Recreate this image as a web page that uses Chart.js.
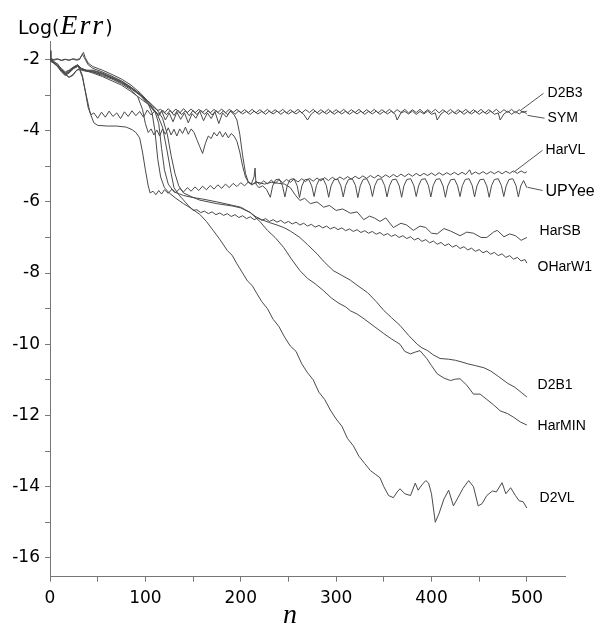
<!DOCTYPE html>
<html>
<head>
<meta charset="utf-8">
<script src="https://cdn.jsdelivr.net/npm/chart.js@4.4.1/dist/chart.umd.min.js"></script>
<style>
  html, body { margin: 0; padding: 0; background: #fff; }
  #wrap { width: 597px; height: 628px; }
</style>
</head>
<body>
<div id="wrap"><canvas id="errChart" width="597" height="628"></canvas></div>
<script>
// values: [n, log(err)]
const sym = [[0,-1.75],[1,-1.95],[4,-2.1],[8,-2.2],[12,-2.3],[16,-2.4],[20,-2.5],[24,-2.45],[28,-2.3],[31,-2.25],[34,-2.45],[37,-2.9],[40,-3.35],[43,-3.55],[46,-3.5],
  [50,-3.65],[54,-3.48],[58,-3.62],[62,-3.45],[66,-3.6],[70,-3.5],[74,-3.66],[78,-3.47],[82,-3.6],[86,-3.44],[90,-3.58],[94,-3.46],[98,-3.62],[102,-3.42],[106,-3.56],[110,-3.44],
  [114,-3.58],[118,-3.42],[122,-3.55],[126,-3.43],[130,-3.57],[134,-3.42],[138,-3.55],[142,-3.44],[146,-3.58],[150,-3.43],[154,-3.55],[158,-3.42],[162,-3.54],[166,-3.44],[170,-3.56],
  [174,-3.43],[178,-3.54],[182,-3.44],[186,-3.55],[190,-3.43],[194,-3.54],[198,-3.44],[202,-3.53],[206,-3.46],[210,-3.54],[214,-3.45],[218,-3.53],[222,-3.46],[226,-3.54],[230,-3.45],
  [234,-3.53],[238,-3.45],[242,-3.54],[246,-3.46],[250,-3.53],[254,-3.46],[258,-3.53],[262,-3.45],[266,-3.54],[270,-3.7],[274,-3.53],[278,-3.45],[282,-3.54],[286,-3.46],[290,-3.53],
  [294,-3.45],[298,-3.54],[302,-3.46],[306,-3.53],[310,-3.45],[314,-3.54],[318,-3.46],[322,-3.53],[326,-3.45],[330,-3.54],[334,-3.46],[338,-3.53],[342,-3.45],[346,-3.54],[350,-3.46],
  [354,-3.53],[358,-3.45],[362,-3.54],[364,-3.7],[368,-3.5],[372,-3.46],[376,-3.53],[380,-3.45],[384,-3.54],[388,-3.46],[392,-3.53],[396,-3.45],[400,-3.54],[404,-3.5],[406,-3.7],
  [410,-3.53],[414,-3.45],[418,-3.54],[422,-3.46],[426,-3.53],[430,-3.45],[434,-3.54],[438,-3.46],[442,-3.53],[446,-3.45],[450,-3.54],[454,-3.46],[458,-3.53],[462,-3.45],[466,-3.54],
  [470,-3.5],[472,-3.7],[476,-3.53],[480,-3.45],[484,-3.54],[488,-3.46],[492,-3.53],[496,-3.45],[500,-3.53]];

const d2b3 = [[0,-1.97],[4,-2.02],[8,-1.99],[12,-2.03],[16,-2.0],[20,-2.02],[24,-1.99],[28,-2.02],[31,-2.0],[33,-1.9],[35,-1.8],[37,-1.95],[40,-2.1],[45,-2.2],[55,-2.3],
  [65,-2.42],[75,-2.55],[85,-2.72],[95,-2.95],[102,-3.15],[108,-3.33],[113,-3.43],[116,-3.4],[120,-3.5],[124,-3.38],[128,-3.5],[132,-3.39],[136,-3.51],[140,-3.38],[144,-3.49],
  [148,-3.39],[152,-3.5],[156,-3.4],[160,-3.49],[164,-3.39],[168,-3.5],[172,-3.4],[176,-3.49],[180,-3.39],[184,-3.5],[188,-3.4],[192,-3.49],[196,-3.4],[200,-3.5],[204,-3.41],
  [208,-3.49],[212,-3.4],[216,-3.5],[220,-3.41],[224,-3.49],[228,-3.4],[232,-3.5],[236,-3.41],[240,-3.49],[244,-3.4],[248,-3.5],[252,-3.41],[256,-3.49],[260,-3.4],[264,-3.5],
  [268,-3.41],[272,-3.49],[276,-3.4],[280,-3.5],[284,-3.41],[288,-3.49],[292,-3.4],[296,-3.5],[300,-3.41],[304,-3.49],[308,-3.4],[312,-3.5],[316,-3.41],[320,-3.49],[324,-3.4],
  [328,-3.5],[332,-3.41],[336,-3.49],[340,-3.4],[344,-3.5],[348,-3.41],[352,-3.49],[356,-3.4],[360,-3.5],[364,-3.41],[368,-3.49],[372,-3.4],[376,-3.5],[380,-3.41],[384,-3.49],
  [388,-3.4],[392,-3.5],[396,-3.41],[400,-3.49],[404,-3.4],[408,-3.5],[412,-3.41],[416,-3.49],[420,-3.4],[424,-3.5],[428,-3.41],[432,-3.49],[436,-3.4],[440,-3.5],[444,-3.41],
  [448,-3.49],[452,-3.4],[456,-3.5],[460,-3.41],[464,-3.49],[468,-3.4],[472,-3.5],[476,-3.41],[480,-3.49],[484,-3.4],[488,-3.5],[492,-3.41],[496,-3.49],[500,-3.45]];

const harVL = [[0,-2.05],[4,-2.1],[8,-2.2],[12,-2.32],[16,-2.42],[20,-2.5],[24,-2.42],[28,-2.3],[31,-2.28],[34,-2.5],[38,-3.0],[42,-3.5],[46,-3.78],[50,-3.85],[60,-3.87],
  [70,-3.87],[80,-3.9],[86,-3.97],[90,-4.05],[94,-4.2],[97,-4.6],[100,-5.1],[103,-5.55],[105,-5.75],[108,-5.7],[111,-5.8],[114,-5.68],[117,-5.78],[120,-5.66],[124,-5.76],
  [128,-5.64],[132,-5.74],[136,-5.62],[140,-5.72],[144,-5.6],[148,-5.7],[152,-5.58],[156,-5.68],[160,-5.56],[164,-5.66],[168,-5.54],[172,-5.64],[176,-5.52],[180,-5.62],[184,-5.5],
  [188,-5.6],[192,-5.48],[196,-5.57],[200,-5.46],[204,-5.55],[208,-5.44],[212,-5.53],[216,-5.42],[220,-5.51],[224,-5.41],[228,-5.49],[232,-5.39],[236,-5.48],[240,-5.38],[244,-5.46],
  [248,-5.37],[252,-5.45],[256,-5.36],[260,-5.44],[264,-5.35],[268,-5.43],[272,-5.34],[276,-5.42],[280,-5.33],[284,-5.41],[288,-5.32],[292,-5.4],[296,-5.31],[300,-5.38],[304,-5.3],
  [308,-5.37],[312,-5.29],[316,-5.36],[320,-5.28],[324,-5.35],[328,-5.27],[332,-5.34],[336,-5.26],[340,-5.33],[344,-5.25],[348,-5.32],[352,-5.24],[356,-5.31],[360,-5.23],[364,-5.3],
  [368,-5.22],[372,-5.29],[376,-5.21],[380,-5.28],[384,-5.2],[388,-5.27],[392,-5.2],[396,-5.26],[400,-5.19],[404,-5.26],[408,-5.18],[412,-5.25],[416,-5.18],[420,-5.24],[424,-5.17],
  [428,-5.24],[432,-5.17],[436,-5.23],[440,-5.1],[442,-5.23],[446,-5.16],[450,-5.22],[454,-5.15],[458,-5.22],[462,-5.15],[466,-5.21],[470,-5.14],[474,-5.21],[478,-5.14],[482,-5.2],
  [486,-5.13],[490,-5.2],[494,-5.13],[498,-5.19],[500,-5.15]];

const upYee = [[0,-1.97],[4,-2.0],[8,-1.98],[12,-2.02],[16,-1.99],[20,-2.02],[24,-1.98],[28,-2.0],[31,-1.98],[34,-1.85],[36,-1.95],[40,-2.15],[45,-2.25],[55,-2.35],[65,-2.47],
  [75,-2.6],[85,-2.78],[95,-3.0],[103,-3.25],[109,-3.45],[113,-3.55],[117,-3.45],[121,-3.7],[125,-3.5],[129,-3.75],[133,-3.48],[137,-3.68],[141,-3.5],[145,-3.78],[149,-3.52],
  [153,-3.65],[157,-3.45],[161,-3.72],[165,-3.5],[169,-3.66],[173,-3.47],[177,-3.8],[181,-3.5],[185,-3.62],[189,-3.45],[193,-3.55],[196,-3.7],[199,-4.1],[202,-4.7],[205,-5.2],
  [208,-5.45],[211,-5.5],[214,-5.3],[215,-5.05],[216,-5.5],[219,-5.6],[223,-5.55],[227,-5.65],
  [231,-5.87],[233.5,-5.55],[236.5,-5.38],[240.5,-5.36],[243.8,-5.55],
  [246.3,-5.86],[248.8,-5.54],[251.8,-5.37],[255.8,-5.35],[259.1,-5.54],
  [261.6,-5.88],[264.1,-5.55],[267.1,-5.38],[271.1,-5.36],[274.4,-5.55],
  [276.9,-5.85],[279.4,-5.54],[282.4,-5.37],[286.4,-5.35],[289.7,-5.54],
  [292.2,-5.87],[294.7,-5.55],[297.7,-5.38],[301.7,-5.36],[305,-5.55],
  [307.5,-5.86],[310,-5.54],[313,-5.37],[317,-5.35],[320.3,-5.54],
  [322.8,-5.88],[325.3,-5.55],[328.3,-5.37],[332.3,-5.35],[335.6,-5.54],
  [338.1,-5.85],[340.6,-5.54],[343.6,-5.37],[347.6,-5.35],[350.9,-5.54],
  [353.4,-5.86],[355.9,-5.55],[358.9,-5.38],[362.9,-5.36],[366.2,-5.55],
  [368.7,-5.87],[371.2,-5.54],[374.2,-5.37],[378.2,-5.35],[381.5,-5.54],
  [384,-5.85],[386.5,-5.55],[389.5,-5.37],[393.5,-5.35],[396.8,-5.54],
  [399.3,-5.86],[401.8,-5.54],[404.8,-5.37],[408.8,-5.35],[412.1,-5.55],
  [414.6,-5.87],[417.1,-5.55],[420.1,-5.38],[424.1,-5.36],[427.4,-5.55],
  [429.9,-5.85],[432.4,-5.54],[435.4,-5.37],[439.4,-5.35],[442.7,-5.54],
  [445.2,-5.86],[447.7,-5.55],[450.7,-5.38],[454.7,-5.36],[458,-5.55],
  [460.5,-5.87],[463,-5.54],[466,-5.37],[470,-5.35],[473.3,-5.54],
  [475.8,-5.85],[478.3,-5.55],[481.3,-5.37],[485.3,-5.35],[488.6,-5.54],
  [491.1,-5.86],[493.6,-5.55],[496.6,-5.4],[500,-5.6]];

const harSB = [[0,-2.0],[4,-2.05],[8,-2.15],[12,-2.25],[16,-2.35],[20,-2.3],[25,-2.2],[29,-2.15],[33,-2.25],[38,-2.3],[45,-2.35],[55,-2.45],[65,-2.55],[75,-2.68],[85,-2.85],
  [92,-3.05],[97,-3.4],[100,-3.8],[103,-4.05],[106,-3.95],[109,-4.12],[112,-3.98],[115,-4.15],[118,-3.95],[121,-4.1],[124,-3.92],[127,-4.12],[130,-3.96],[133,-4.15],[136,-3.95],
  [139,-4.08],[142,-3.9],[145,-4.1],[148,-3.95],[151,-4.05],[154,-4.25],[157,-4.45],[160,-4.64],[163,-4.35],[166,-4.15],[169,-4.22],[172,-4.05],[175,-4.15],[178,-4.02],[181,-4.18],
  [184,-4.05],[187,-4.2],[190,-4.08],[193,-4.15],[196,-4.3],[199,-4.6],[202,-5.0],[205,-5.3],[208,-5.45],[212,-5.5],[218,-5.45],[225,-5.5],[232,-5.45],[240,-5.48],[246,-5.5],
  [252,-5.6],[257,-5.8],[262,-5.96],[267,-5.9],[273,-6.05],[280,-6.0],[287,-6.15],[293,-6.1],[300,-6.24],[307,-6.2],[315,-6.32],[322,-6.28],[329,-6.5],[335,-6.4],[340,-6.45],
  [346,-6.55],[352,-6.45],[360,-6.72],[368,-6.6],[374,-6.65],[381,-6.8],[388,-6.68],[394,-6.72],[400,-6.88],[406,-6.9],[413,-6.75],[420,-6.82],[430,-6.95],[437,-6.85],[444,-6.88],
  [452,-7.0],[458,-7.0],[465,-6.85],[469,-6.8],[476,-6.98],[482,-6.9],[488,-6.95],[494,-7.08],[500,-7.0]];

const oHarW1 = [[0,-2.0],[4,-2.08],[8,-2.18],[12,-2.3],[16,-2.38],[20,-2.32],[25,-2.22],[29,-2.18],[33,-2.28],[38,-2.32],[45,-2.38],[55,-2.48],[65,-2.6],[75,-2.72],[85,-2.9],
  [95,-3.1],[105,-3.3],[112,-3.5],[118,-3.9],[123,-4.6],[127,-5.2],[130,-5.6],[135,-5.8],[140,-5.95],[145,-6.1],[150,-6.24],[154,-6.22],[158,-6.3],[162,-6.26],[166,-6.33],
  [170,-6.28],[174,-6.36],[178,-6.31],[182,-6.38],[186,-6.33],[190,-6.41],[194,-6.36],[198,-6.44],[202,-6.39],[206,-6.47],[210,-6.42],[214,-6.5],[218,-6.45],[222,-6.52],[226,-6.47],
  [230,-6.55],[234,-6.5],[238,-6.57],[242,-6.52],[246,-6.6],[250,-6.55],[254,-6.62],[258,-6.57],[262,-6.65],[266,-6.6],[270,-6.68],[274,-6.63],[278,-6.71],[282,-6.66],[286,-6.73],
  [290,-6.68],[294,-6.76],[298,-6.71],[302,-6.78],[306,-6.73],[310,-6.81],[314,-6.76],[318,-6.83],[322,-6.78],[326,-6.86],[330,-6.81],[334,-6.88],[338,-6.83],[342,-6.91],[346,-6.86],
  [350,-6.94],[354,-6.89],[358,-6.97],[362,-6.92],[366,-7.0],[370,-6.95],[374,-7.03],[378,-6.98],[382,-7.07],[386,-7.02],[390,-7.11],[394,-7.06],[398,-7.15],[402,-7.1],[406,-7.19],
  [410,-7.14],[414,-7.23],[418,-7.18],[422,-7.27],[426,-7.22],[430,-7.31],[434,-7.26],[438,-7.35],[442,-7.3],[446,-7.39],[450,-7.34],[454,-7.43],[458,-7.38],[462,-7.47],[466,-7.42],
  [470,-7.51],[474,-7.46],[478,-7.56],[482,-7.51],[486,-7.61],[490,-7.56],[494,-7.66],[498,-7.62],[500,-7.72]];

const d2VL = [[0,-2.0],[4,-2.1],[8,-2.2],[12,-2.35],[16,-2.45],[20,-2.38],[25,-2.25],[29,-2.2],[33,-2.3],[38,-2.33],[45,-2.35],[55,-2.42],[65,-2.52],[75,-2.65],[85,-2.82],
  [95,-3.02],[103,-3.25],[107,-3.5],[110,-4.0],[113,-4.8],[116,-5.3],[120,-5.6],[125,-5.75],[132,-5.9],[140,-6.05],[148,-6.18],[157,-6.35],[164,-6.55],[171,-6.8],[178,-7.05],
  [186,-7.37],[191,-7.5],[196,-7.74],[202,-8.0],[207,-8.22],[212,-8.35],[217,-8.58],[222,-8.8],[228,-9.0],[234,-9.3],[240,-9.5],[246,-9.8],[252,-10.05],[258,-10.2],[264,-10.55],
  [270,-10.8],[276,-11.0],[282,-11.35],[288,-11.55],[294,-11.85],[300,-12.1],[306,-12.3],[312,-12.65],[318,-12.85],[324,-13.15],[330,-13.35],[336,-13.55],[341,-13.65],[346,-13.75],
  [350,-14.0],[355,-14.25],[360,-14.31],[364,-14.15],[367,-14.06],[372,-14.2],[378,-14.25],[383,-13.9],[386,-14.1],[390,-13.95],[394,-13.83],[397,-13.9],[400,-14.2],[404,-15.0],
  [408,-14.75],[413,-14.35],[418,-14.1],[423,-14.54],[428,-14.3],[433,-14.05],[439,-13.83],[444,-14.0],[449,-14.54],[453,-14.48],[458,-14.25],[464,-14.12],[468,-14.15],[474,-13.89],
  [478,-14.2],[483,-14.03],[488,-14.25],[492,-14.4],[496,-14.42],[500,-14.6]];

const d2B1 = [[0,-2.0],[4,-2.08],[8,-2.12],[12,-2.28],[16,-2.4],[20,-2.35],[25,-2.22],[29,-2.15],[33,-2.25],[38,-2.3],[45,-2.3],[55,-2.38],[65,-2.5],[75,-2.62],[85,-2.78],
  [95,-2.98],[103,-3.2],[110,-3.45],[114,-3.8],[117,-4.5],[120,-5.1],[124,-5.5],[130,-5.72],[140,-5.82],[150,-5.88],[160,-5.92],[175,-6.0],[192,-6.1],[200,-6.15],[210,-6.3],
  [216,-6.42],[222,-6.5],[230,-6.58],[238,-6.65],[245,-6.72],[252,-6.82],[262,-7.0],[270,-7.2],[280,-7.46],[288,-7.7],[297,-7.93],[305,-8.05],[315,-8.2],[324,-8.38],[333,-8.55],
  [342,-8.8],[350,-9.05],[358,-9.25],[367,-9.47],[376,-9.75],[385,-10.0],[390,-10.1],[396,-10.18],[402,-10.3],[409,-10.4],[418,-10.42],[425,-10.45],[432,-10.5],[438,-10.55],
  [446,-10.6],[455,-10.66],[462,-10.75],[470,-10.9],[475,-11.0],[480,-11.1],[487,-11.2],[494,-11.35],[500,-11.48]];

const harMIN = [[0,-2.0],[4,-2.1],[8,-2.18],[12,-2.33],[16,-2.42],[20,-2.36],[25,-2.24],[29,-2.17],[33,-2.28],[38,-2.32],[45,-2.32],[55,-2.4],[65,-2.52],[75,-2.64],[85,-2.8],
  [95,-3.0],[105,-3.22],[112,-3.4],[118,-3.65],[123,-4.1],[127,-4.7],[131,-5.2],[135,-5.55],[140,-5.75],[148,-5.85],[157,-5.95],[175,-6.05],[192,-6.12],[200,-6.17],[210,-6.3],
  [220,-6.55],[228,-6.8],[236,-7.0],[245,-7.28],[253,-7.6],[262,-7.93],[270,-8.15],[278,-8.3],[287,-8.5],[295,-8.7],[303,-8.85],[310,-8.95],[315,-9.06],[322,-9.15],[330,-9.3],
  [340,-9.5],[350,-9.7],[358,-9.85],[367,-10.0],[372,-10.2],[378,-10.27],[383,-10.22],[388,-10.18],[395,-10.4],[400,-10.6],[406,-10.83],[413,-10.95],[420,-11.02],[425,-10.98],
  [430,-10.97],[437,-11.15],[444,-11.4],[451,-11.4],[458,-11.55],[465,-11.7],[472,-11.87],[480,-11.95],[486,-12.05],[493,-12.18],[500,-12.27]];

const seriesNames = ["D2B3", "SYM", "HarVL", "UPYee", "HarSB", "OHarW1", "D2B1", "HarMIN", "D2VL"];
const seriesData = [d2b3, sym, harVL, upYee, harSB, oHarW1, d2B1, harMIN, d2VL];

const xTicks = [0, 50, 100, 150, 200, 250, 300, 350, 400, 450, 500];
const yTicks = [-16, -15, -14, -13, -12, -11, -10, -9, -8, -7, -6, -5, -4, -3, -2];

// curve names at the right end, some with a short leader line
const curveLabels = [
  { text: "D2B3",   x: 519.6, y: -2.95,  from: [493.4, -3.43], to: [517.5, -2.95], size: 14 },
  { text: "SYM",    x: 519.6, y: -3.65,  from: [500.7, -3.57], to: [518.6, -3.65], size: 14 },
  { text: "HarVL",  x: 517.5, y: -4.55,  from: [486, -5.17],   to: [516.5, -4.55], size: 14 },
  { text: "UPYee",  x: 517.5, y: -5.70,  from: [500.7, -5.59], to: [516.5, -5.68], size: 16 },
  { text: "HarSB",  x: 511.2, y: -6.83,  size: 14 },
  { text: "OHarW1", x: 509.1, y: -7.84,  size: 14 },
  { text: "D2B1",   x: 509.1, y: -11.16, size: 14 },
  { text: "HarMIN", x: 509.1, y: -12.31, size: 14 },
  { text: "D2VL",   x: 511.2, y: -14.31, size: 14 }
];

const textPlugin = {
  id: "textPlugin",
  afterDraw(chart) {
    const { ctx, scales } = chart;
    const xs = scales.x, ys = scales.y;
    ctx.save();
    ctx.fillStyle = "#000";
    ctx.textBaseline = "middle";
    curveLabels.forEach(l => {
      if (l.from) {
        ctx.strokeStyle = "#555";
        ctx.lineWidth = 1;
        ctx.beginPath();
        ctx.moveTo(xs.getPixelForValue(l.from[0]), ys.getPixelForValue(l.from[1]));
        ctx.lineTo(xs.getPixelForValue(l.to[0]), ys.getPixelForValue(l.to[1]));
        ctx.stroke();
      }
      ctx.font = l.size + "px 'Liberation Sans', Arial, sans-serif";
      ctx.fillText(l.text, xs.getPixelForValue(l.x) + 2, ys.getPixelForValue(l.y));
    });

    // axis titles: "Log(" sans, "Err" math italic, ")"
    ctx.textBaseline = "alphabetic";
    const base = 34;
    let px = 18;
    ctx.font = "19px 'DejaVu Sans', sans-serif";
    ctx.fillText("Log(", px, base);
    px += ctx.measureText("Log(").width + 1;
    ctx.font = "italic 28px 'Liberation Serif', serif";
    ["E", "r", "r"].forEach(ch => {
      ctx.fillText(ch, px, base);
      px += ctx.measureText(ch).width + 2;
    });
    ctx.font = "19px 'DejaVu Sans', sans-serif";
    ctx.fillText(")", px, base);

    ctx.font = "italic 28px 'Liberation Serif', serif";
    ctx.textAlign = "center";
    ctx.fillText("n", 290, 623);
    ctx.restore();
  }
};

new Chart(document.getElementById("errChart"), {
  type: "scatter",
  data: {
    datasets: seriesData.map((d, i) => ({
      label: seriesNames[i],
      data: d.map(p => ({ x: p[0], y: p[1] })),
      showLine: true,
      borderColor: "#4a4a4a",
      borderWidth: 1,
      pointRadius: 0,
      tension: 0
    }))
  },
  options: {
    responsive: false,
    animation: false,
    layout: { padding: { top: 41.7, right: 32, left: 0, bottom: 0 } },
    plugins: { legend: { display: false }, tooltip: { enabled: false } },
    scales: {
      x: {
        type: "linear",
        min: 0,
        max: 540,
        afterFit: s => { s.height = 51.3; },
        afterBuildTicks: s => { s.ticks = xTicks.map(v => ({ value: v })); },
        border: { color: "#777", width: 1 },
        grid: { drawOnChartArea: false, tickLength: 5, tickColor: "#777" },
        ticks: {
          color: "#000",
          padding: 7,
          maxRotation: 0,
          font: { family: "'DejaVu Sans'", size: 17 },
          callback: v => (v % 100 === 0 ? String(v) : "")
        }
      },
      y: {
        type: "linear",
        min: -16.53,
        max: -1.5,
        afterFit: s => { s.width = 50; },
        afterBuildTicks: s => { s.ticks = yTicks.map(v => ({ value: v })); },
        border: { color: "#777", width: 1 },
        grid: { drawOnChartArea: false, tickLength: 5, tickColor: "#777" },
        ticks: {
          color: "#000",
          padding: 5,
          font: { family: "'DejaVu Sans'", size: 17 },
          callback: v => (v % 2 === 0 ? String(v) : "")
        }
      }
    }
  },
  plugins: [textPlugin]
});
</script>
</body>
</html>
